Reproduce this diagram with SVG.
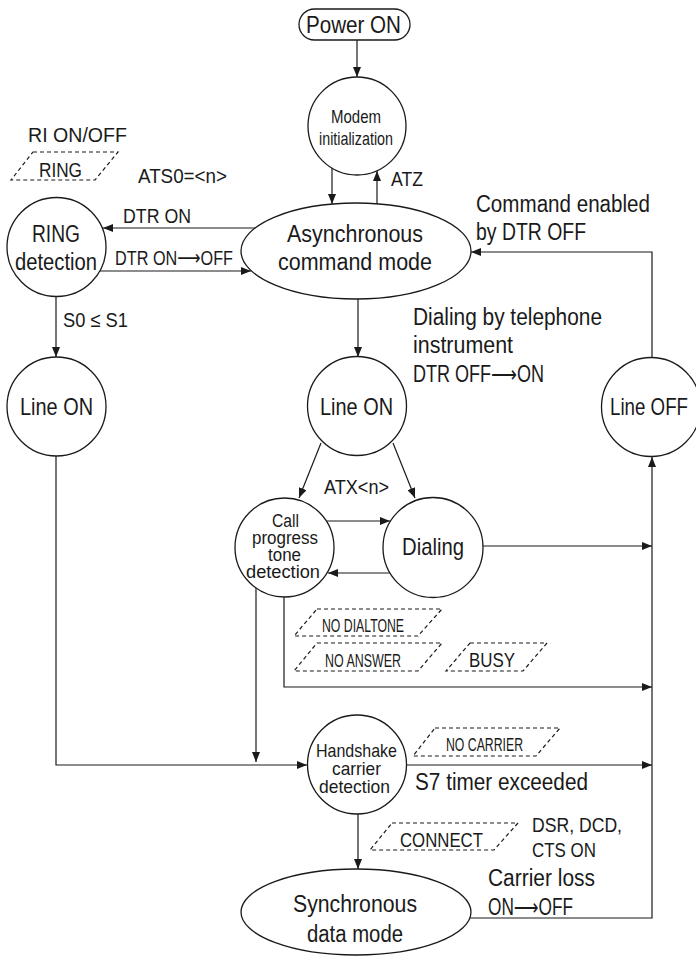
<svg xmlns="http://www.w3.org/2000/svg" width="696" height="965" viewBox="0 0 696 965">
<style>
.n{fill:#fff;stroke:#1a1a1a;stroke-width:1.3}
.c{fill:none;stroke:#1a1a1a;stroke-width:1.2}
.d{fill:none;stroke:#1a1a1a;stroke-width:1.2;stroke-dasharray:4 3}
text{font-family:"Liberation Sans","DejaVu Sans",Arial,sans-serif;fill:#1a1a1a}
.L{font-size:23px}
.X{font-size:24px}
.M{font-size:21px}
.S{font-size:19px}
.T{font-size:18px}
</style>
<defs>
<marker id="ah" markerWidth="10" markerHeight="8" refX="10" refY="4" orient="auto" markerUnits="userSpaceOnUse">
<path d="M0,0 L10,4 L0,8 z" fill="#1a1a1a"/>
</marker>
</defs>
<g id="connectors">
<line class="c" x1="357" y1="40" x2="357" y2="77" marker-end="url(#ah)"/>
<line class="c" x1="332" y1="168" x2="332" y2="204" marker-end="url(#ah)"/>
<line class="c" x1="377" y1="204" x2="377" y2="171" marker-end="url(#ah)"/>
<line class="c" x1="255" y1="228" x2="103" y2="228" marker-end="url(#ah)"/>
<line class="c" x1="100" y1="271" x2="251" y2="271" marker-end="url(#ah)"/>
<line class="c" x1="56" y1="297" x2="56" y2="357" marker-end="url(#ah)"/>
<line class="c" x1="358" y1="299" x2="358" y2="357" marker-end="url(#ah)"/>
<line class="c" x1="321" y1="443" x2="299" y2="498" marker-end="url(#ah)"/>
<line class="c" x1="393" y1="443" x2="415" y2="498" marker-end="url(#ah)"/>
<line class="c" x1="327" y1="521" x2="390" y2="521" marker-end="url(#ah)"/>
<line class="c" x1="390" y1="573" x2="328" y2="573" marker-end="url(#ah)"/>
<line class="c" x1="483" y1="546" x2="652" y2="546" marker-end="url(#ah)"/>
<polyline class="c" points="284,597 284,687 652,687" marker-end="url(#ah)"/>
<line class="c" x1="256" y1="588" x2="256" y2="762" marker-end="url(#ah)"/>
<polyline class="c" points="56,456 56,765 307,765" marker-end="url(#ah)"/>
<line class="c" x1="407" y1="765" x2="652" y2="765" marker-end="url(#ah)"/>
<line class="c" x1="358" y1="814" x2="358" y2="869" marker-end="url(#ah)"/>
<polyline class="c" points="470,918 652,918 652,457" marker-end="url(#ah)"/>
<polyline class="c" points="652,358 652,252 471,252" marker-end="url(#ah)"/>
</g>
<g id="power-on">
<rect class="n" x="299" y="9" width="111" height="31" rx="15.5"/>
<text class="X" x="306" y="33" textLength="95" lengthAdjust="spacingAndGlyphs">Power ON</text>
</g>
<g id="modem-init">
<circle class="n" cx="357" cy="126" r="49"/>
<text class="S" x="331" y="123" textLength="50" lengthAdjust="spacingAndGlyphs">Modem</text>
<text class="S" x="319" y="145" textLength="74" lengthAdjust="spacingAndGlyphs">initialization</text>
</g>
<g id="async-mode">
<ellipse class="n" cx="356" cy="251" rx="115" ry="48"/>
<text class="L" x="287" y="242" textLength="136" lengthAdjust="spacingAndGlyphs">Asynchronous</text>
<text class="L" x="278" y="270" textLength="154" lengthAdjust="spacingAndGlyphs">command mode</text>
</g>
<g id="ring-detection">
<circle class="n" cx="56.5" cy="247" r="49.5"/>
<text class="L" x="32" y="242" textLength="48" lengthAdjust="spacingAndGlyphs">RING</text>
<text class="L" x="15" y="270" textLength="82" lengthAdjust="spacingAndGlyphs">detection</text>
</g>
<g id="line-on-left">
<circle class="n" cx="56.5" cy="406.5" r="49.5"/>
<text class="X" x="20" y="415" textLength="73" lengthAdjust="spacingAndGlyphs">Line ON</text>
</g>
<g id="line-on-mid">
<circle class="n" cx="357" cy="406" r="49.5"/>
<text class="X" x="320" y="415" textLength="73" lengthAdjust="spacingAndGlyphs">Line ON</text>
</g>
<g id="line-off">
<circle class="n" cx="651" cy="407" r="49.5"/>
<text class="X" x="610" y="415" textLength="78" lengthAdjust="spacingAndGlyphs">Line OFF</text>
</g>
<g id="call-progress">
<circle class="n" cx="284.5" cy="547.5" r="49.5"/>
<text class="T" x="272" y="527" textLength="27" lengthAdjust="spacingAndGlyphs">Call</text>
<text class="T" x="252" y="544" textLength="66" lengthAdjust="spacingAndGlyphs">progress</text>
<text class="T" x="268" y="561" textLength="33" lengthAdjust="spacingAndGlyphs">tone</text>
<text class="T" x="246" y="578" textLength="74" lengthAdjust="spacingAndGlyphs">detection</text>
</g>
<g id="dialing">
<circle class="n" cx="433" cy="547.5" r="50"/>
<text class="X" x="402" y="555" textLength="62" lengthAdjust="spacingAndGlyphs">Dialing</text>
</g>
<g id="handshake">
<circle class="n" cx="357" cy="764.5" r="49.5"/>
<text class="S" x="316" y="757" textLength="81" lengthAdjust="spacingAndGlyphs">Handshake</text>
<text class="S" x="332" y="775" textLength="49" lengthAdjust="spacingAndGlyphs">carrier</text>
<text class="S" x="319" y="793" textLength="71" lengthAdjust="spacingAndGlyphs">detection</text>
</g>
<g id="sync-mode">
<ellipse class="n" cx="356" cy="912" rx="115" ry="43"/>
<text class="L" x="293" y="912" textLength="124" lengthAdjust="spacingAndGlyphs">Synchronous</text>
<text class="L" x="307" y="942" textLength="96" lengthAdjust="spacingAndGlyphs">data mode</text>
</g>
<g id="msg-ring">
<polygon class="d" points="33,152 118,152 95,180 11,180"/>
<text class="M" x="39" y="177" textLength="43" lengthAdjust="spacingAndGlyphs">RING</text>
</g>
<g id="msg-no-dialtone">
<polygon class="d" points="317,609 442,609 418,636 294,636"/>
<text class="T" x="322" y="632" textLength="82" lengthAdjust="spacingAndGlyphs">NO DIALTONE</text>
</g>
<g id="msg-no-answer">
<polygon class="d" points="317,643 442,643 418,671 294,671"/>
<text class="T" x="325" y="667" textLength="76" lengthAdjust="spacingAndGlyphs">NO ANSWER</text>
</g>
<g id="msg-busy">
<polygon class="d" points="470,643 547,643 523,671 446,671"/>
<text class="M" x="469" y="667" textLength="46" lengthAdjust="spacingAndGlyphs">BUSY</text>
</g>
<g id="msg-no-carrier">
<polygon class="d" points="435,728 560,728 536,756 413,756"/>
<text class="T" x="446" y="751" textLength="77" lengthAdjust="spacingAndGlyphs">NO CARRIER</text>
</g>
<g id="msg-connect">
<polygon class="d" points="392,823 518,823 494,850 370,850"/>
<text class="M" x="400" y="847" textLength="83" lengthAdjust="spacingAndGlyphs">CONNECT</text>
</g>
<g id="labels">
<text class="M" x="391" y="186" textLength="32" lengthAdjust="spacingAndGlyphs">ATZ</text>
<text class="M" x="28" y="142" textLength="99" lengthAdjust="spacingAndGlyphs">RI ON/OFF</text>
<text class="M" x="138" y="183" textLength="89" lengthAdjust="spacingAndGlyphs">ATS0=&lt;n&gt;</text>
<text class="M" x="123" y="223" textLength="68" lengthAdjust="spacingAndGlyphs">DTR ON</text>
<text class="M" x="115" y="265" textLength="118" lengthAdjust="spacingAndGlyphs">DTR ON⟶OFF</text>
<text class="L" x="476" y="212" textLength="174" lengthAdjust="spacingAndGlyphs">Command enabled</text>
<text class="L" x="476" y="240" textLength="110" lengthAdjust="spacingAndGlyphs">by DTR OFF</text>
<text class="M" x="63" y="327" textLength="65" lengthAdjust="spacingAndGlyphs">S0 ≤ S1</text>
<text class="L" x="413" y="325" textLength="189" lengthAdjust="spacingAndGlyphs">Dialing by telephone</text>
<text class="L" x="413" y="353" textLength="100" lengthAdjust="spacingAndGlyphs">instrument</text>
<text class="L" x="413" y="382" textLength="131" lengthAdjust="spacingAndGlyphs">DTR OFF⟶ON</text>
<text class="M" x="324" y="494" textLength="65" lengthAdjust="spacingAndGlyphs">ATX&lt;n&gt;</text>
<text class="L" x="415" y="790" textLength="173" lengthAdjust="spacingAndGlyphs">S7 timer exceeded</text>
<text class="M" x="532" y="832" textLength="90" lengthAdjust="spacingAndGlyphs">DSR, DCD,</text>
<text class="M" x="532" y="857" textLength="64" lengthAdjust="spacingAndGlyphs">CTS ON</text>
<text class="L" x="488" y="886" textLength="107" lengthAdjust="spacingAndGlyphs">Carrier loss</text>
<text class="L" x="488" y="915" textLength="85" lengthAdjust="spacingAndGlyphs">ON⟶OFF</text>
</g>
</svg>
